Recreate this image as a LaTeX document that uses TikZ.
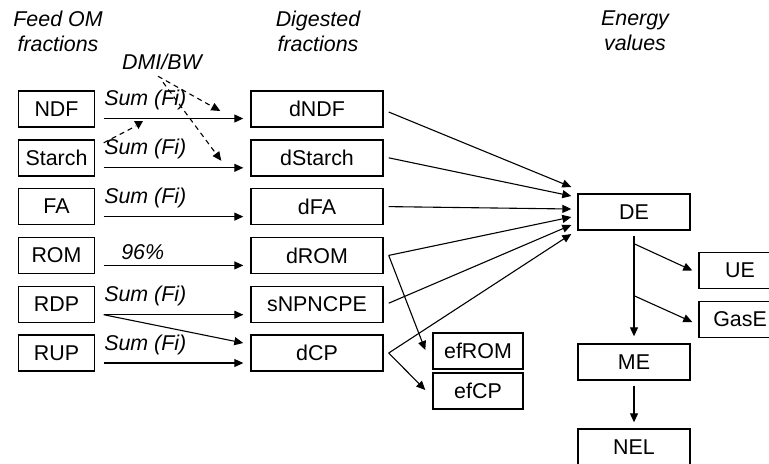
\documentclass[tikz,border=0pt]{standalone}
\usepackage{fontspec}
\setmainfont{Liberation Sans}
\usetikzlibrary{arrows.meta,positioning}

\tikzset{
  box/.style={draw, line width=0.7pt, minimum height=18pt, inner sep=0pt,
    font=\fontsize{10.7}{12}\selectfont},
  feedbox/.style={box, minimum width=38pt},
  digbox/.style={box, minimum width=66pt},
  enbox/.style={box, minimum width=56pt},
  efbox/.style={box, minimum width=45pt},
  flow/.style={line width=0.55pt, -{Triangle[length=4.5pt,width=4pt]}},
  dflow/.style={flow, dash pattern=on 2.5pt off 2pt},
  lbl/.style={font=\fontsize{10.7}{12}\selectfont\itshape, inner sep=0pt},
  head/.style={font=\fontsize{10.7}{12.5}\selectfont\itshape, align=center},
}

\begin{document}
\begin{tikzpicture}[x=0.5pt, y=-0.5pt]
\useasboundingbox (0,0) rectangle (769,463);

% column heads
\node[head] (hfeed) at (58,31) {Feed OM\\fractions};
\node[head] (hdig) at (318,31) {Digested\\fractions};
\node[head] (hen) at (635,31) {Energy\\values};

% feed OM fractions
\node[feedbox] (ndf) at (56.5,109) {NDF};
\node[feedbox] (starch) at (56.5,157.8) {Starch};
\node[feedbox] (fa) at (56.5,206.6) {FA};
\node[feedbox] (rom) at (56.5,255.4) {ROM};
\node[feedbox] (rdp) at (56.5,304.2) {RDP};
\node[feedbox] (rup) at (56.5,353) {RUP};

% digested fractions
\node[digbox] (dndf) at (317,109) {dNDF};
\node[digbox] (dstarch) at (317,157.8) {dStarch};
\node[digbox] (dfa) at (317,206.6) {dFA};
\node[digbox] (drom) at (317,255.4) {dROM};
\node[digbox] (snpn) at (317,304.2) {sNPNCPE};
\node[digbox] (dcp) at (317,353) {dCP};

\node[efbox] (efrom) at (478,351) {efROM};
\node[efbox] (efcp) at (478,391) {efCP};

% energy values
\node[enbox] (de) at (634,212) {DE};
\node[enbox] (me) at (634,362) {ME};
\node[enbox] (nel) at (634,447) {NEL};
\node[box, minimum width=41pt] (ue) at (740,270.5) {UE};
\node[box, minimum width=41pt] (gase) at (740,319.5) {GasE};

% feed -> digested
\draw[flow] ([shift={(8.5,9.5)}]ndf.east) -- node[lbl, pos=0, anchor=south west, yshift=4pt] {Sum (Fi)} ([shift={(-7,9.5)}]dndf.west);
\draw[flow] ([shift={(8.5,10)}]starch.east) -- node[lbl, pos=0, anchor=south west, yshift=4pt] {Sum (Fi)} ([shift={(-7,10)}]dstarch.west);
\draw[flow] ([shift={(8.5,10)}]fa.east) -- node[lbl, pos=0, anchor=south west, yshift=4pt] {Sum (Fi)} ([shift={(-7,10)}]dfa.west);
\draw[flow] ([shift={(8.5,10)}]rom.east) -- node[lbl, pos=0, anchor=south west, xshift=8.5pt, yshift=2.5pt] {96\%} ([shift={(-7,10)}]drom.west);
\draw[flow] ([shift={(8.5,10.5)}]rdp.east) -- node[lbl, pos=0, anchor=south west, yshift=4pt] {Sum (Fi)} ([shift={(-7,10.5)}]snpn.west);
\draw[flow] ([shift={(8.5,10.5)}]rdp.east) -- ([shift={(-7,-10)}]dcp.west);
\draw[flow] ([shift={(8.5,10)}]rup.east) -- node[lbl, pos=0, anchor=south west, yshift=4pt] {Sum (Fi)} ([shift={(-7,10)}]dcp.west);

% DMI/BW effect
\node[lbl] (dmi) at (162,62) {DMI/BW};
\draw[dflow] ([shift={(-4,6)}]dmi.south) -- ([shift={(-30,2)}]dndf.west);
\draw[dflow] ([shift={(1,12)}]dmi.south) -- ([shift={(-29,3)}]dstarch.west);
\coordinate (ndfhit) at (138.5,125);
\draw[line width=0.55pt, dash pattern=on 2.5pt off 2pt] ([shift={(8.5,-15)}]starch.east) -- ([shift={(-2.5,1)}]ndfhit);
\fill ([shift={(-4.5,-4)}]ndfhit) -- ([shift={(4.5,-4)}]ndfhit) -- ([shift={(0,4)}]ndfhit) -- cycle;

% digested -> DE
\draw[flow] ([shift={(5,3)}]dndf.east) -- ([shift={(-6,-25)}]de.west);
\draw[flow] ([shift={(5,0)}]dstarch.east) -- ([shift={(-6,-16)}]de.west);
\draw[flow] ([shift={(5,0)}]dfa.east) -- ([shift={(-6,-3)}]de.west);
\draw[flow] ([shift={(5,0)}]drom.east) -- ([shift={(-6,5)}]de.west);
\draw[flow] ([shift={(5,-1)}]snpn.east) -- ([shift={(-6,13)}]de.west);
\draw[flow] ([shift={(5,0)}]dcp.east) -- ([shift={(-6,22)}]de.west);
\draw[flow] ([shift={(5,0)}]drom.east) -- ([shift={(-7,-1)}]efrom.west);
\draw[flow] ([shift={(5,0)}]dcp.east) -- ([shift={(-7,-1)}]efcp.west);

% DE partition
\draw[flow] ([yshift=-2.5pt]de.south) -- ([yshift=3.5pt]me.north);
\draw[flow] ([shift={(0,13)}]de.south) -- ([shift={(-6,0)}]ue.west);
\draw[flow] ([shift={(0,65)}]de.south) -- ([shift={(-6,2.5)}]gase.west);
\draw[flow] ([yshift=-2.5pt]me.south) -- ([yshift=3pt]nel.north);
\end{tikzpicture}
\end{document}
